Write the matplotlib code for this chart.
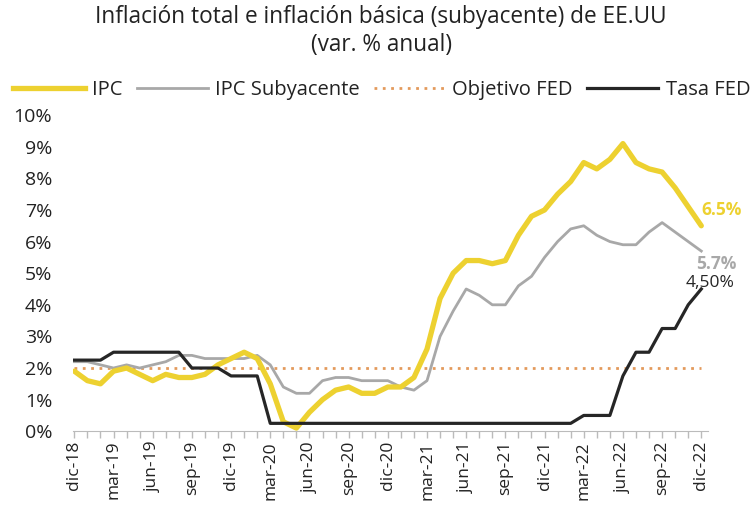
import matplotlib
matplotlib.use("Agg")
import matplotlib.pyplot as plt
from matplotlib.lines import Line2D
import numpy as np

plt.rcParams['font.family'] = ['Open Sans', 'DejaVu Sans']

months = ["dic-18",
          "ene-19", "feb-19", "mar-19", "abr-19", "may-19", "jun-19", "jul-19", "ago-19", "sep-19", "oct-19", "nov-19", "dic-19",
          "ene-20", "feb-20", "mar-20", "abr-20", "may-20", "jun-20", "jul-20", "ago-20", "sep-20", "oct-20", "nov-20", "dic-20",
          "ene-21", "feb-21", "mar-21", "abr-21", "may-21", "jun-21", "jul-21", "ago-21", "sep-21", "oct-21", "nov-21", "dic-21",
          "ene-22", "feb-22", "mar-22", "abr-22", "may-22", "jun-22", "jul-22", "ago-22", "sep-22", "oct-22", "nov-22", "dic-22"]

ipc = [1.9,
       1.6, 1.5, 1.9, 2.0, 1.8, 1.6, 1.8, 1.7, 1.7, 1.8, 2.1, 2.3,
       2.5, 2.3, 1.5, 0.3, 0.1, 0.6, 1.0, 1.3, 1.4, 1.2, 1.2, 1.4,
       1.4, 1.7, 2.6, 4.2, 5.0, 5.4, 5.4, 5.3, 5.4, 6.2, 6.8, 7.0,
       7.5, 7.9, 8.5, 8.3, 8.6, 9.1, 8.5, 8.3, 8.2, 7.7, 7.1, 6.5]

ipc_sub = [2.2,
           2.2, 2.1, 2.0, 2.1, 2.0, 2.1, 2.2, 2.4, 2.4, 2.3, 2.3, 2.3,
           2.3, 2.4, 2.1, 1.4, 1.2, 1.2, 1.6, 1.7, 1.7, 1.6, 1.6, 1.6,
           1.4, 1.3, 1.6, 3.0, 3.8, 4.5, 4.3, 4.0, 4.0, 4.6, 4.9, 5.5,
           6.0, 6.4, 6.5, 6.2, 6.0, 5.9, 5.9, 6.3, 6.6, 6.3, 6.0, 5.7]

objetivo = [2.0] * len(months)

tasa_fed = [2.25,
            2.25, 2.25, 2.5, 2.5, 2.5, 2.5, 2.5, 2.5, 2.0, 2.0, 2.0, 1.75,
            1.75, 1.75, 0.25, 0.25, 0.25, 0.25, 0.25, 0.25, 0.25, 0.25, 0.25, 0.25,
            0.25, 0.25, 0.25, 0.25, 0.25, 0.25, 0.25, 0.25, 0.25, 0.25, 0.25, 0.25,
            0.25, 0.25, 0.5, 0.5, 0.5, 1.75, 2.5, 2.5, 3.25, 3.25, 4.0, 4.5]

yticks = [0, 1, 2, 3, 4, 5, 6, 7, 8, 9, 10]

c_ipc = "#EDD130"
c_sub = "#A8A8A8"
c_obj = "#E39A5C"
c_fed = "#262626"

fig = plt.figure(figsize=(7.53, 5.14), dpi=100)
ax = fig.add_axes([0.097, 0.161, 0.843, 0.615])

x = np.arange(len(months))
ax.plot(x, ipc, color=c_ipc, lw=3.8, solid_joinstyle='round', solid_capstyle='round', zorder=3)
ax.plot(x, ipc_sub, color=c_sub, lw=2.0, zorder=2)
ax.plot(x, objetivo, color=c_obj, lw=2.0, ls=(0, (1, 2)), zorder=1)
ax.plot(x, tasa_fed, color=c_fed, lw=2.3, zorder=4)

ax.set_ylim(0, 10)
ax.set_xlim(-0.1, 48.5)
ax.set_yticks(yticks)
ax.set_yticklabels([f"{v}%" for v in yticks], fontsize=14, color="#222222")
ax.tick_params(axis='y', length=0, pad=15)

ax.set_xticks(x, minor=True)
ax.set_xticks(x[::3])
ax.set_xticklabels(months[::3], rotation=90, fontsize=12.5, color="#222222")
ax.tick_params(axis='x', which='both', length=5, color="#BBBBBB", width=1, pad=2)

for s in ['top', 'right', 'left']:
    ax.spines[s].set_visible(False)
ax.spines['bottom'].set_color("#BBBBBB")

ax.text(48.0, 7.0, f"{ipc[-1]}%", color=c_ipc, fontsize=12.5, fontweight='bold', va='center', ha='left')
ax.text(47.6, 5.3, f"{ipc_sub[-1]}%", color=c_sub, fontsize=12.5, fontweight='bold', va='center', ha='left')
ax.text(46.8, 4.7, f"{tasa_fed[-1]:.2f}%".replace('.', ','), color=c_fed, fontsize=12.5, va='center', ha='left')

fig.text(0.506, 0.966, "Inflación total e inflación básica (subyacente) de EE.UU",
         ha='center', va='center', fontsize=16.3, color="#222222")
fig.text(0.506, 0.913, "(var. % anual)", ha='center', va='center', fontsize=16.3, color="#222222")

handles = [Line2D([], [], color=c_ipc, lw=3.8),
           Line2D([], [], color=c_sub, lw=2.0),
           Line2D([], [], color=c_obj, lw=2.0, ls=(0, (1, 2))),
           Line2D([], [], color=c_fed, lw=2.3)]
labels = ["IPC", "IPC Subyacente", "Objetivo FED", "Tasa FED"]
fig.legend(handles, labels, loc='center', bbox_to_anchor=(0.507, 0.825), ncol=4, frameon=False,
           fontsize=14.5, handlelength=3.55, handletextpad=0.35, columnspacing=0.7, labelcolor="#222222",
           borderaxespad=0, borderpad=0)

fig.savefig("out.png", dpi=100)
